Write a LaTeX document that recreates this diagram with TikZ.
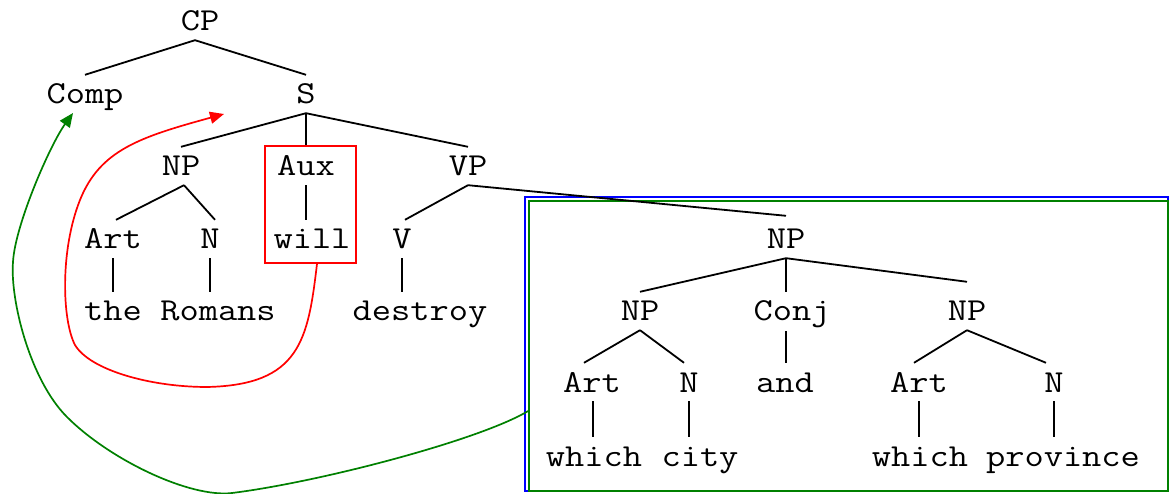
\documentclass[tikz,border=0pt]{standalone}
\usepackage{fontspec}
\setmonofont{Latin Modern Mono}[FakeStretch=1.167]
\usetikzlibrary{arrows.meta}
\definecolor{darkgreen}{RGB}{0,128,0}
\begin{document}
\begin{tikzpicture}[x=1pt,y=-1pt,
  lbl/.style={anchor=base, inner sep=0pt, text height=29pt, text depth=9pt,
    font=\ttfamily\fontsize{32pt}{36pt}\selectfont},
  edge/.style={line width=1.8pt, black},
  redbox/.style={draw=red, line width=1.8pt, inner sep=0pt},
  arr/.style={line width=1.7pt, -{Triangle[length=14pt,width=12pt]}}
]
\useasboundingbox (0,0) rectangle (1170,494);
% boxes
\node[draw=blue, line width=1.7pt, inner sep=0pt, minimum width=643pt, minimum height=294pt] (bluebox) at (846.5,344) {};
\node[draw=darkgreen, line width=1.7pt, inner sep=0pt, minimum width=639pt, minimum height=290pt] (greenbox) at (848.5,346) {};
\node[redbox, minimum width=91pt, minimum height=117pt] (auxbox) at (310.5,204.5) {};
% nodes
\node[lbl] (CP) at (200,31) {CP};
\node[lbl] (Comp) at (85,104) {Comp};
\node[lbl] (S) at (306,104) {S};
\node[lbl] (NPa) at (181,176) {NP};
\node[lbl] (Aux) at (306,176) {Aux};
\node[lbl] (VP) at (468,176) {VP};
\node[lbl] (Arta) at (113,249) {Art};
\node[lbl] (Na) at (210,249) {N};
\node[lbl] (will) at (312,249) {will};
\node[lbl] (V) at (402,249) {V};
\node[lbl] (NPb) at (786,249) {NP};
\node[lbl] (the) at (113,321) {the};
\node[lbl] (Romans) at (218,321) {Romans};
\node[lbl] (destroy) at (420,321) {destroy};
\node[lbl] (NPl) at (640,321) {NP};
\node[lbl] (Conj) at (792,321) {Conj};
\node[lbl] (NPr) at (967,321) {NP};
\node[lbl] (Artb) at (592,392) {Art};
\node[lbl] (Nb) at (689,392) {N};
\node[lbl] (and) at (785,392) {and};
\node[lbl] (Artc) at (919,392) {Art};
\node[lbl] (Nc) at (1054,392) {N};
\node[lbl] (whicha) at (594,466) {which};
\node[lbl] (city) at (700,466) {city};
\node[lbl] (whichb) at (920,466) {which};
\node[lbl] (province) at (1063,466) {province};
% edges
\draw[edge] ([xshift=-5pt]CP.south) -- (Comp.north);
\draw[edge] ([xshift=-5pt]CP.south) -- (S.north);
\draw[edge] (S.south) -- (NPa.north);
\draw[edge] (S.south) -- (S.south |- auxbox.north);
\draw[edge] (S.south) -- (VP.north);
\draw[edge] ([xshift=3pt]NPa.south) -- ([xshift=3pt]Arta.north);
\draw[edge] ([xshift=3pt]NPa.south) -- ([xshift=5pt]Na.north);
\draw[edge] (Aux.south) -- (Aux.south |- will.north);
\draw[edge] (VP.south) -- ([xshift=3pt]V.north);
\draw[edge] (VP.south) -- ([yshift=4pt]NPb.north);
\draw[edge] (Arta.south) -- (Arta.south |- the.north);
\draw[edge] (Na.south) -- (Na.south |- Romans.north);
\draw[edge] (V.south) -- (V.south |- destroy.north);
\draw[edge] (NPb.south) -- (NPl.north);
\draw[edge] (NPb.south) -- (NPb.south |- Conj.north);
\draw[edge] (NPb.south) -- ([yshift=10pt]NPr.north);
\draw[edge] (NPl.south) -- ([xshift=-8pt]Artb.north);
\draw[edge] (NPl.south) -- ([xshift=-5pt]Nb.north);
\draw[edge] (and.north -| NPb.south) -- ([yshift=-1pt]Conj.south -| NPb.south);
\draw[edge] (NPr.south) -- ([xshift=-5pt]Artc.north);
\draw[edge] (NPr.south) -- ([xshift=-8pt]Nc.north);
\draw[edge] ([xshift=1pt]Artb.south) -- ([xshift=1pt]Artb.south |- whicha.north);
\draw[edge] (Nb.south) -- (Nb.south |- city.north);
\draw[edge] (Artc.south) -- (Artc.south |- whichb.north);
\draw[edge] (Nc.south) -- (Nc.south |- province.north);
% movement arrows
\coordinate (redtip) at (224,114);
\coordinate (greentip) at (73,113);
\draw[arr, red] ([xshift=6.5pt]auxbox.south)
  .. controls (308,340) and (300,385) .. (207,387)
  .. controls (150,387) and (90,370) .. (75,345)
  .. controls (62,320) and (60,250) .. (80,200)
  .. controls (100,150) and (140,137) .. (redtip);
\draw[arr, darkgreen] ([yshift=-65pt]greenbox.west)
  .. controls (480,440) and (320,482) .. (232,493)
  .. controls (190,498) and (110,460) .. (67,417)
  .. controls (30,380) and (10,300) .. (13,262)
  .. controls (15,225) and (50,145) .. (greentip);
\end{tikzpicture}
\end{document}
